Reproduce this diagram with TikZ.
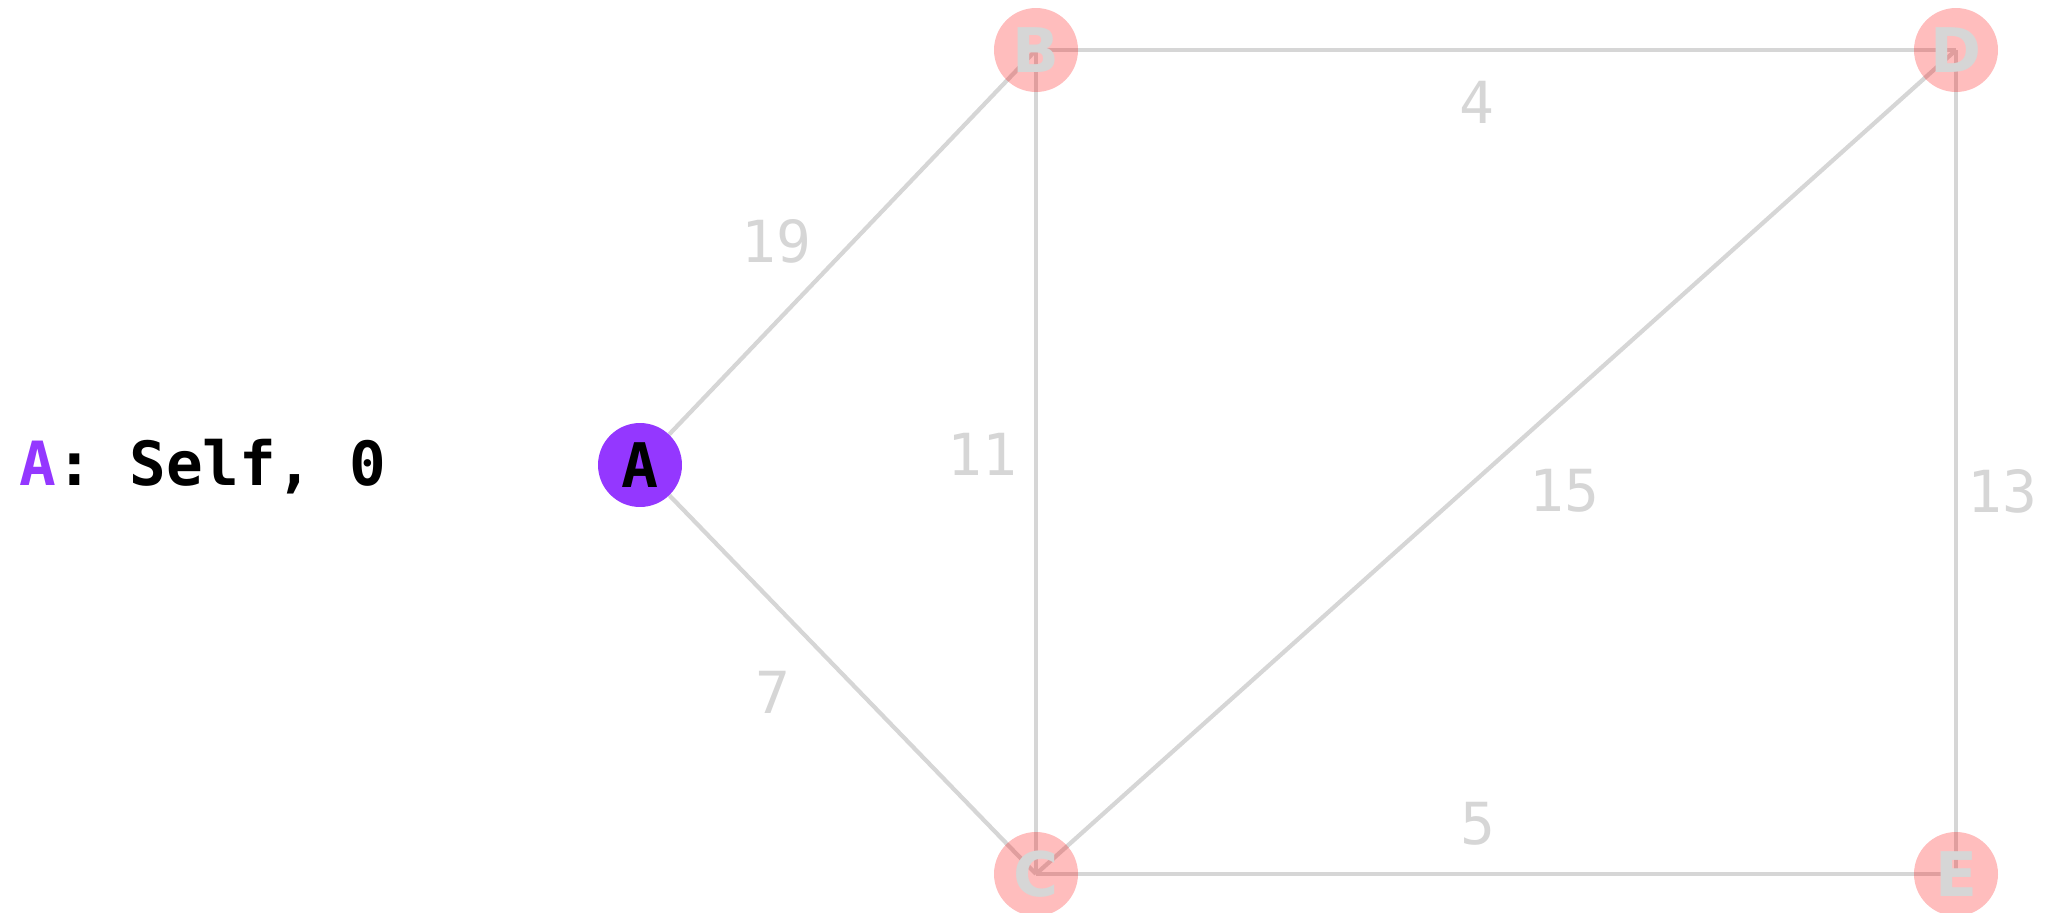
\documentclass[tikz,border=0pt]{standalone}
\usepackage{fontspec}
\setmainfont{DejaVu Sans}
\newfontfamily\codefont{DejaVu Sans Mono}
\usetikzlibrary{backgrounds}
\definecolor{visited}{HTML}{9437FF}
\definecolor{unvisited}{HTML}{FF0000}
\definecolor{faded}{HTML}{D6D6D6}
\tikzset{
  vertex/.style={circle,minimum size=1.68cm,inner sep=0pt,
    font=\bfseries\fontsize{35}{35}\selectfont},
  done/.style={vertex,fill=visited,text=black,font=\codefont\bfseries\fontsize{35}{35}\selectfont},
  todo/.style={vertex,fill=unvisited,fill opacity=0.26,text=faded,text opacity=1},
  link/.style={faded,line width=0.085cm},
  weight/.style={inner sep=0pt,text=faded,font=\codefont\fontsize{33}{33}\selectfont},
}
\begin{document}
\begin{tikzpicture}[x=0.02cm,y=-0.02cm]
  \useasboundingbox (0,0) rectangle (2063,913);
  % vertices
  \node[done] (A) at (640,465) {A};
  \node[todo] (B) at (1036,50) {B};
  \node[todo] (D) at (1956,50) {D};
  \node[todo] (C) at (1036,874) {C};
  \node[todo] (E) at (1956,874) {E};
  % edges
  \begin{scope}[on background layer]
    \draw[link] (A) -- (B.center);
    \draw[link] (A) -- (C.center);
    \draw[link] (B.center) -- (D.center);
    \draw[link] (B.center) -- (C.center);
    \draw[link] (C.center) -- (D.center);
    \draw[link] (D.center) -- (E.center);
    \draw[link] (C.center) -- (E.center);
  \end{scope}
  % weights
  \node[weight] (wAB) at (776,241) {19};
  \node[weight] (wAC) at (773,692) {7};
  \node[weight] (wBC) at (982,454) {11};
  \node[weight] (wBD) at (1477,102) {4};
  \node[weight] (wCD) at (1564,491) {15};
  \node[weight] (wDE) at (2002,491) {13};
  \node[weight] (wCE) at (1478,824) {5};
  % current distance
  \node[anchor=base west,inner sep=0pt,font=\codefont\bfseries\fontsize{34.7}{35}\selectfont]
    (dist) at (19,485) {\textcolor{visited}{A}: Self, 0};
\end{tikzpicture}
\end{document}
